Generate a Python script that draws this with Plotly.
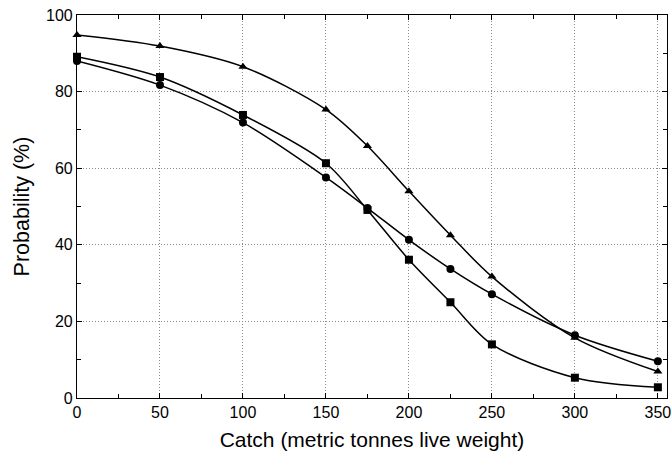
import plotly.graph_objects as go

catch = [0, 50, 100, 150, 175, 200, 225, 250, 300, 350]
triangles = [94.8, 91.9, 86.5, 75.3, 65.8, 54.0, 42.5, 31.7, 15.7, 6.9]
squares = [89.1, 83.8, 73.9, 61.3, 49.1, 36.1, 25.0, 14.0, 5.3, 2.8]
circles = [88.0, 81.7, 71.9, 57.6, 49.6, 41.3, 33.7, 27.1, 16.4, 9.6]

FONT = "Liberation Sans, Arial, sans-serif"

fig = go.Figure()
for ys, sym in [(triangles, "triangle-up"), (squares, "square"), (circles, "circle")]:
    fig.add_trace(go.Scatter(
        x=catch, y=ys, mode="lines+markers",
        line=dict(color="black", width=1.5, shape="spline", smoothing=0.9),
        marker=dict(symbol=sym, color="black", size=8),
        showlegend=False, cliponaxis=False,
    ))

axis_common = dict(
    showline=True, linecolor="black", linewidth=1.2, mirror="ticks",
    ticks="inside", ticklen=5, tickcolor="black",
    showgrid=True, gridcolor="#8a8a8a", griddash="1px,2px", gridwidth=1,
    zeroline=False, automargin=False,
    tickfont=dict(family=FONT, size=16, color="black"),
)

fig.update_xaxes(
    range=[0, 355.5], tickmode="linear", tick0=0, dtick=50,
    ticklabeloverflow="allow",
    title=dict(text="Catch (metric tonnes live weight)", standoff=12,
               font=dict(family=FONT, size=21, color="black")),
    minor=dict(ticks="inside", dtick=25, tick0=0, ticklen=4, tickcolor="black", showgrid=False),
    **axis_common,
)
fig.update_yaxes(
    range=[0, 100], tickmode="linear", tick0=0, dtick=20,
    title=dict(text="Probability (%)", standoff=10,
               font=dict(family=FONT, size=21.5, color="black")),
    minor=dict(ticks="inside", dtick=10, tick0=0, ticklen=4, tickcolor="black", showgrid=False),
    **axis_common,
)

fig.update_layout(
    width=671, height=454,
    margin=dict(l=77, r=4, t=15, b=56),
    paper_bgcolor="white", plot_bgcolor="white",
)

fig.write_html("out.html")
